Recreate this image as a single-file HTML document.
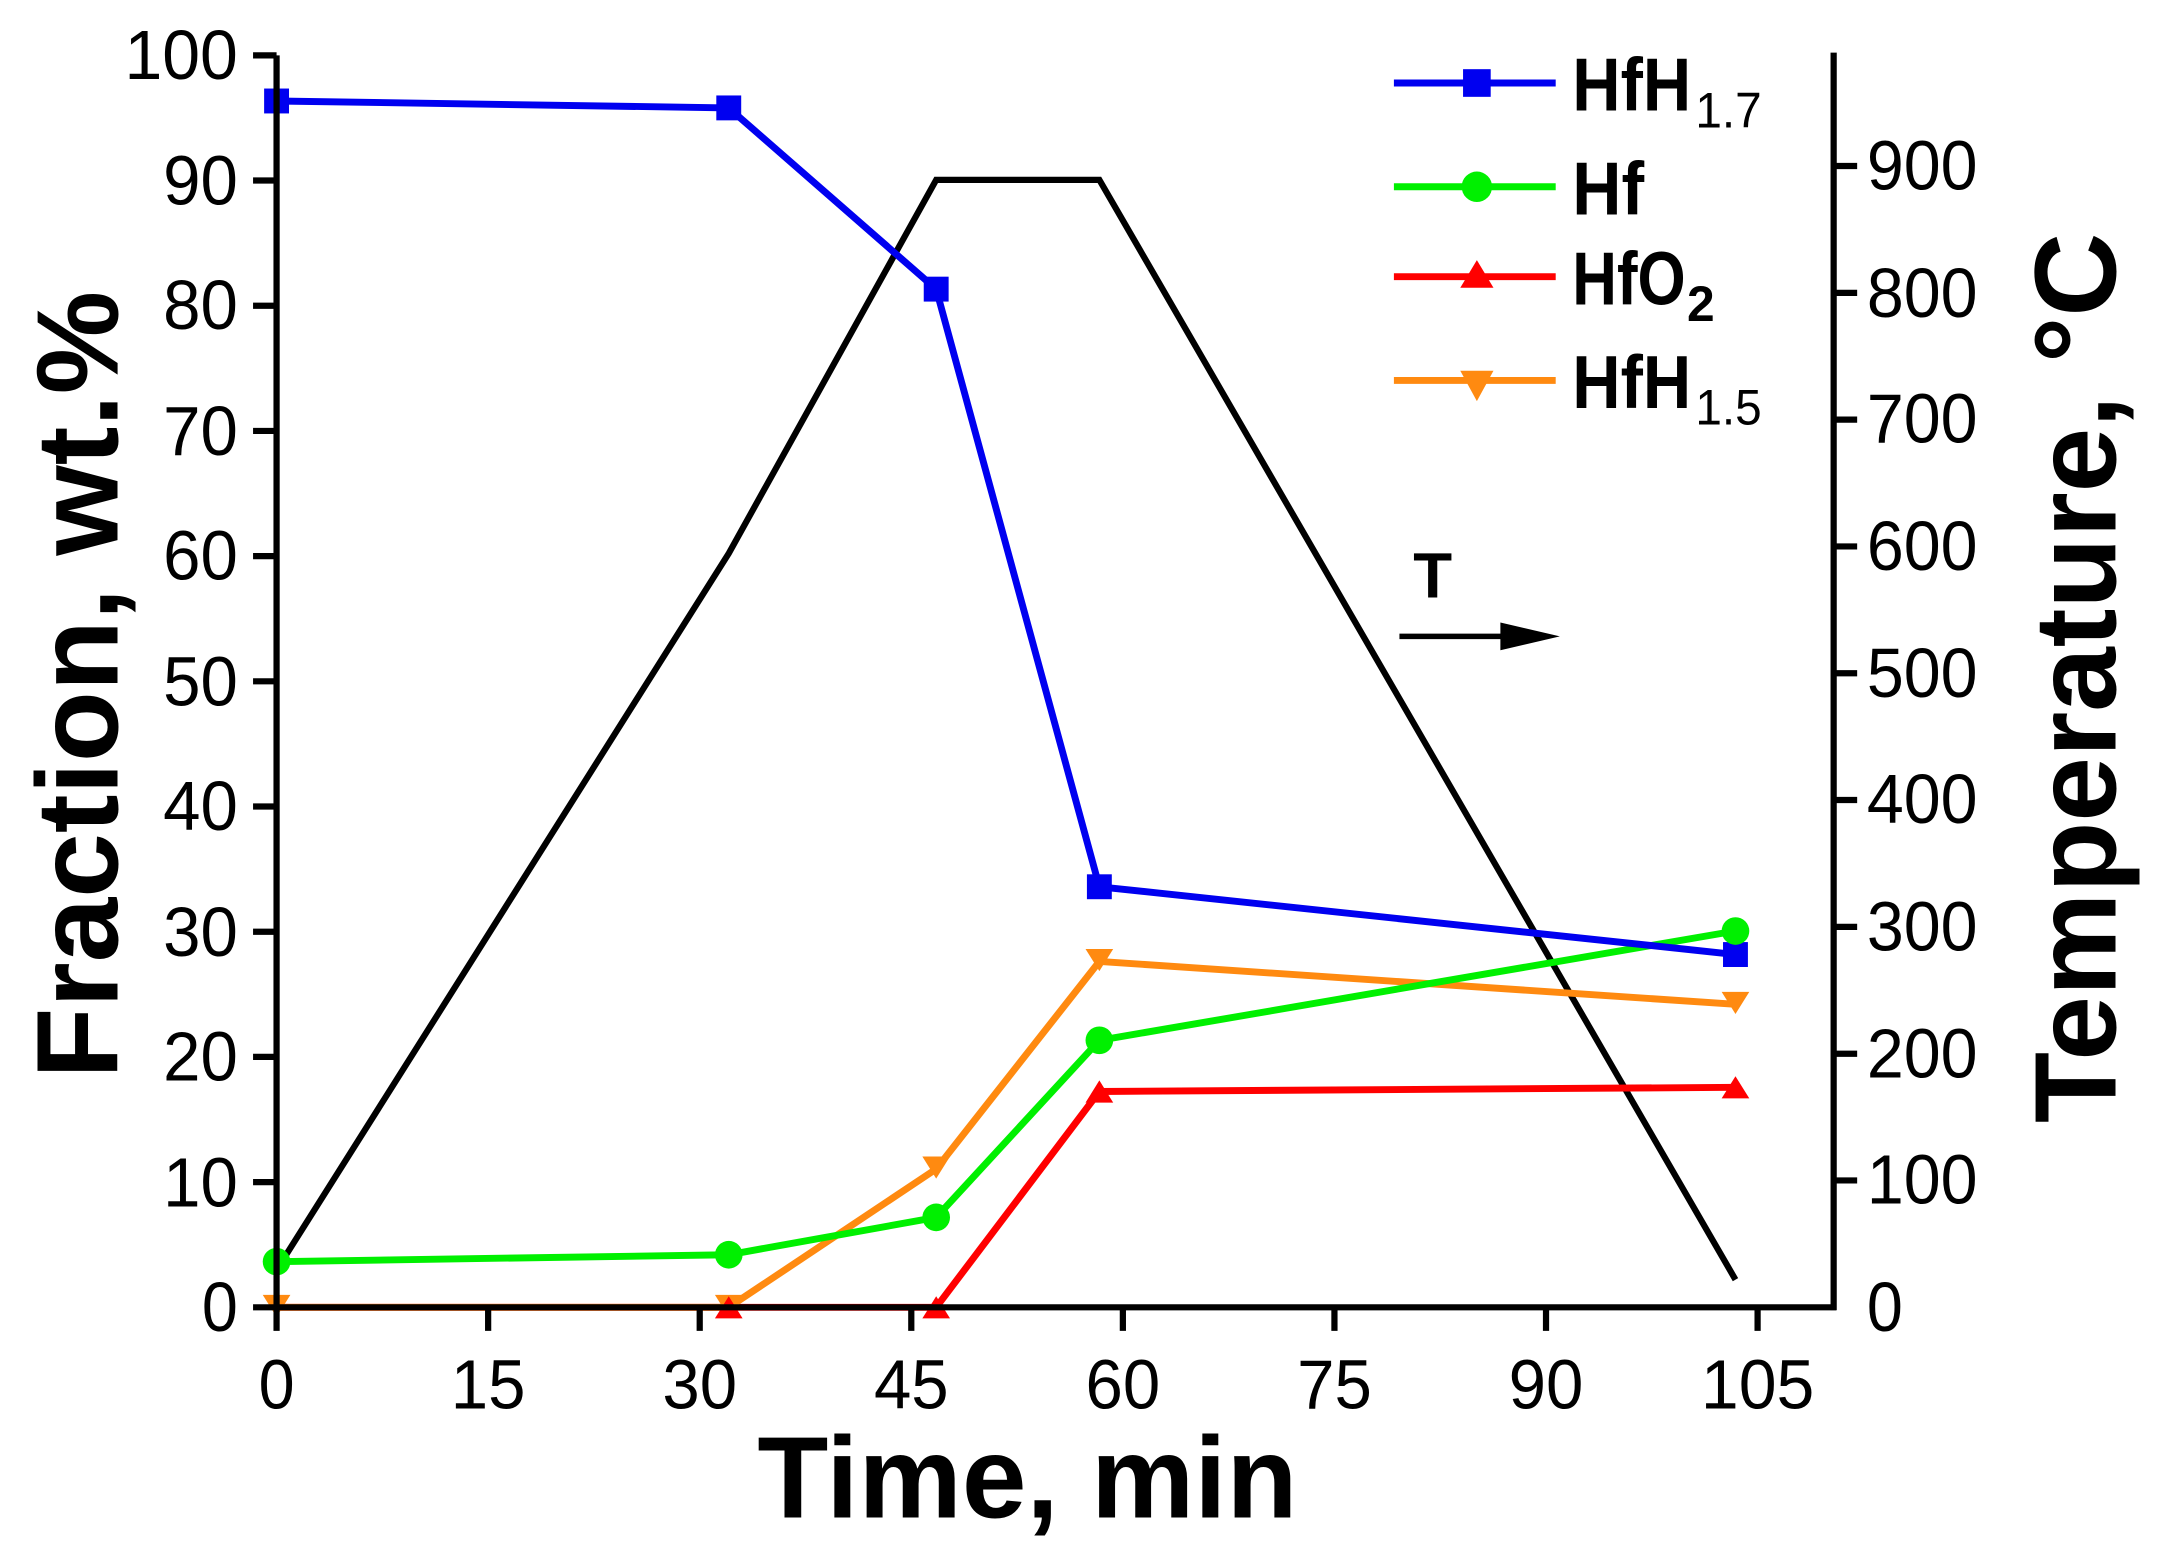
<!DOCTYPE html>
<html><head><meta charset="utf-8"><style>html,body{margin:0;padding:0;background:#fff}svg{display:block}</style></head>
<body>
<svg width="2160" height="1566" viewBox="0 0 1562 1132" preserveAspectRatio="none" xmlns="http://www.w3.org/2000/svg" font-family="Liberation Sans, Arial, sans-serif">
<rect width="1562" height="1132" fill="#fff"/>
<!-- temperature -->
<polyline points="200,918 527,400 677,130 795,130 1255,925" fill="none" stroke="#000" stroke-width="4.5"/>
<!-- HfO2 -->
<polyline points="200,945 527,945 677,945 795,789 1255,786" fill="none" stroke="#f00" stroke-width="5"/>
<!-- HfH1.5 -->
<polyline points="200,945 527,945 677,845 795,695 1255,726" fill="none" stroke="#ff8a10" stroke-width="5"/>
<!-- Hf -->
<polyline points="200,912 527,907 677,880 795,752 1255,673" fill="none" stroke="#00f000" stroke-width="5"/>
<!-- HfH1.7 -->
<polyline points="200,73 527,78 677,209 795,641 1255,690" fill="none" stroke="#0000f0" stroke-width="5"/>
<g fill="#0000f0">
<rect x="191" y="64" width="18" height="18"/><rect x="518" y="69" width="18" height="18"/><rect x="668" y="200" width="18" height="18"/><rect x="786" y="632" width="18" height="18"/><rect x="1246" y="681" width="18" height="18"/>
</g>
<g fill="#00f000">
<circle cx="200" cy="912" r="10"/><circle cx="527" cy="907" r="10"/><circle cx="677" cy="880" r="10"/><circle cx="795" cy="752" r="10"/><circle cx="1255" cy="673" r="10"/>
</g>
<g fill="#ff8a10">
<path d="M190,936h20l-10,16z"/><path d="M517,936h20l-10,16z"/><path d="M667,836h20l-10,16z"/><path d="M785,686h20l-10,16z"/><path d="M1245,717h20l-10,16z"/>
</g>
<g fill="#f00">
<path d="M517,953h20l-10,-16z"/><path d="M667,953h20l-10,-16z"/><path d="M785,797h20l-10,-16z"/><path d="M1245,794h20l-10,-16z"/>
</g>
<!-- axes -->
<g stroke="#000" stroke-width="4.5" fill="none">
<line x1="200" y1="40" x2="200" y2="962"/>
<line x1="1326" y1="38" x2="1326" y2="947"/>
<line x1="183" y1="945" x2="1328" y2="945"/>
<path d="M183,40h17M183,130.5h17M183,221h17M183,311.5h17M183,402h17M183,492.5h17M183,583h17M183,673.5h17M183,764h17M183,854.5h17"/>
<path d="M353,945v17M506,945v17M659,945v17M812,945v17M965,945v17M1118,945v17M1271,945v17"/>
<path d="M1326,853.3h17M1326,761.7h17M1326,670h17M1326,578.3h17M1326,486.7h17M1326,395h17M1326,303.3h17M1326,211.7h17M1326,120h17"/>
</g>
<g font-size="50" fill="#000" lengthAdjust="spacingAndGlyphs">
<text x="146" y="962" textLength="26" lengthAdjust="spacingAndGlyphs">0</text>
<text x="118" y="872" textLength="54" lengthAdjust="spacingAndGlyphs">10</text>
<text x="118" y="781" textLength="54" lengthAdjust="spacingAndGlyphs">20</text>
<text x="118" y="691" textLength="54" lengthAdjust="spacingAndGlyphs">30</text>
<text x="118" y="600" textLength="54" lengthAdjust="spacingAndGlyphs">40</text>
<text x="118" y="510" textLength="54" lengthAdjust="spacingAndGlyphs">50</text>
<text x="118" y="419" textLength="54" lengthAdjust="spacingAndGlyphs">60</text>
<text x="118" y="329" textLength="54" lengthAdjust="spacingAndGlyphs">70</text>
<text x="118" y="238" textLength="54" lengthAdjust="spacingAndGlyphs">80</text>
<text x="118" y="148" textLength="54" lengthAdjust="spacingAndGlyphs">90</text>
<text x="90" y="57" textLength="82" lengthAdjust="spacingAndGlyphs">100</text>
</g>
<g font-size="50" fill="#000">
<text x="187" y="1018" textLength="26" lengthAdjust="spacingAndGlyphs">0</text>
<text x="326" y="1018" textLength="54" lengthAdjust="spacingAndGlyphs">15</text>
<text x="479" y="1018" textLength="54" lengthAdjust="spacingAndGlyphs">30</text>
<text x="632" y="1018" textLength="54" lengthAdjust="spacingAndGlyphs">45</text>
<text x="785" y="1018" textLength="54" lengthAdjust="spacingAndGlyphs">60</text>
<text x="938" y="1018" textLength="54" lengthAdjust="spacingAndGlyphs">75</text>
<text x="1091" y="1018" textLength="54" lengthAdjust="spacingAndGlyphs">90</text>
<text x="1230" y="1018" textLength="82" lengthAdjust="spacingAndGlyphs">105</text>
</g>
<g font-size="50" fill="#000">
<text x="1350" y="962" textLength="26" lengthAdjust="spacingAndGlyphs">0</text>
<text x="1350" y="870" textLength="80" lengthAdjust="spacingAndGlyphs">100</text>
<text x="1350" y="779" textLength="80" lengthAdjust="spacingAndGlyphs">200</text>
<text x="1350" y="687" textLength="80" lengthAdjust="spacingAndGlyphs">300</text>
<text x="1350" y="595" textLength="80" lengthAdjust="spacingAndGlyphs">400</text>
<text x="1350" y="504" textLength="80" lengthAdjust="spacingAndGlyphs">500</text>
<text x="1350" y="412" textLength="80" lengthAdjust="spacingAndGlyphs">600</text>
<text x="1350" y="320" textLength="80" lengthAdjust="spacingAndGlyphs">700</text>
<text x="1350" y="229" textLength="80" lengthAdjust="spacingAndGlyphs">800</text>
<text x="1350" y="137" textLength="80" lengthAdjust="spacingAndGlyphs">900</text>
</g>
<text x="743" y="1097" font-size="84" font-weight="bold" text-anchor="middle">Time, min</text>
<text transform="translate(85,495) rotate(-90)" font-size="84" font-weight="bold" text-anchor="middle">Fraction, wt.%</text>
<text transform="translate(1530,490) rotate(-90)" font-size="84" font-weight="bold" text-anchor="middle">Temperature, °C</text>
<!-- T arrow -->
<text x="1022" y="432" font-size="46" font-weight="bold">T</text>
<line x1="1012" y1="460" x2="1095" y2="460" stroke="#000" stroke-width="4"/>
<path d="M1085,450l43,10l-43,10z" fill="#000"/>
<!-- legend -->
<g stroke-width="5">
<line x1="1008" y1="60" x2="1125" y2="60" stroke="#0000f0"/>
<line x1="1008" y1="135" x2="1125" y2="135" stroke="#00f000"/>
<line x1="1008" y1="200" x2="1125" y2="200" stroke="#f00"/>
<line x1="1008" y1="275" x2="1125" y2="275" stroke="#ff8a10"/>
</g>
<rect x="1058" y="50" width="20" height="20" fill="#0000f0"/>
<circle cx="1068" cy="135" r="11" fill="#00f000"/>
<path d="M1056,208h24l-12,-20z" fill="#f00"/>
<path d="M1056,268h24l-12,22z" fill="#ff8a10"/>
<g font-size="54" font-weight="bold" fill="#000">
<text x="1137" y="80" textLength="86" lengthAdjust="spacingAndGlyphs">HfH</text><text x="1226" y="92" font-size="36" font-weight="normal" textLength="48" lengthAdjust="spacingAndGlyphs">1.7</text>
<text x="1137" y="155" textLength="52" lengthAdjust="spacingAndGlyphs">Hf</text>
<text x="1137" y="220" textLength="82" lengthAdjust="spacingAndGlyphs">HfO</text><text x="1220" y="232" font-size="36" textLength="20" lengthAdjust="spacingAndGlyphs">2</text>
<text x="1137" y="295" textLength="86" lengthAdjust="spacingAndGlyphs">HfH</text><text x="1226" y="307" font-size="36" font-weight="normal" textLength="48" lengthAdjust="spacingAndGlyphs">1.5</text>
</g>
</svg>
</body></html>
